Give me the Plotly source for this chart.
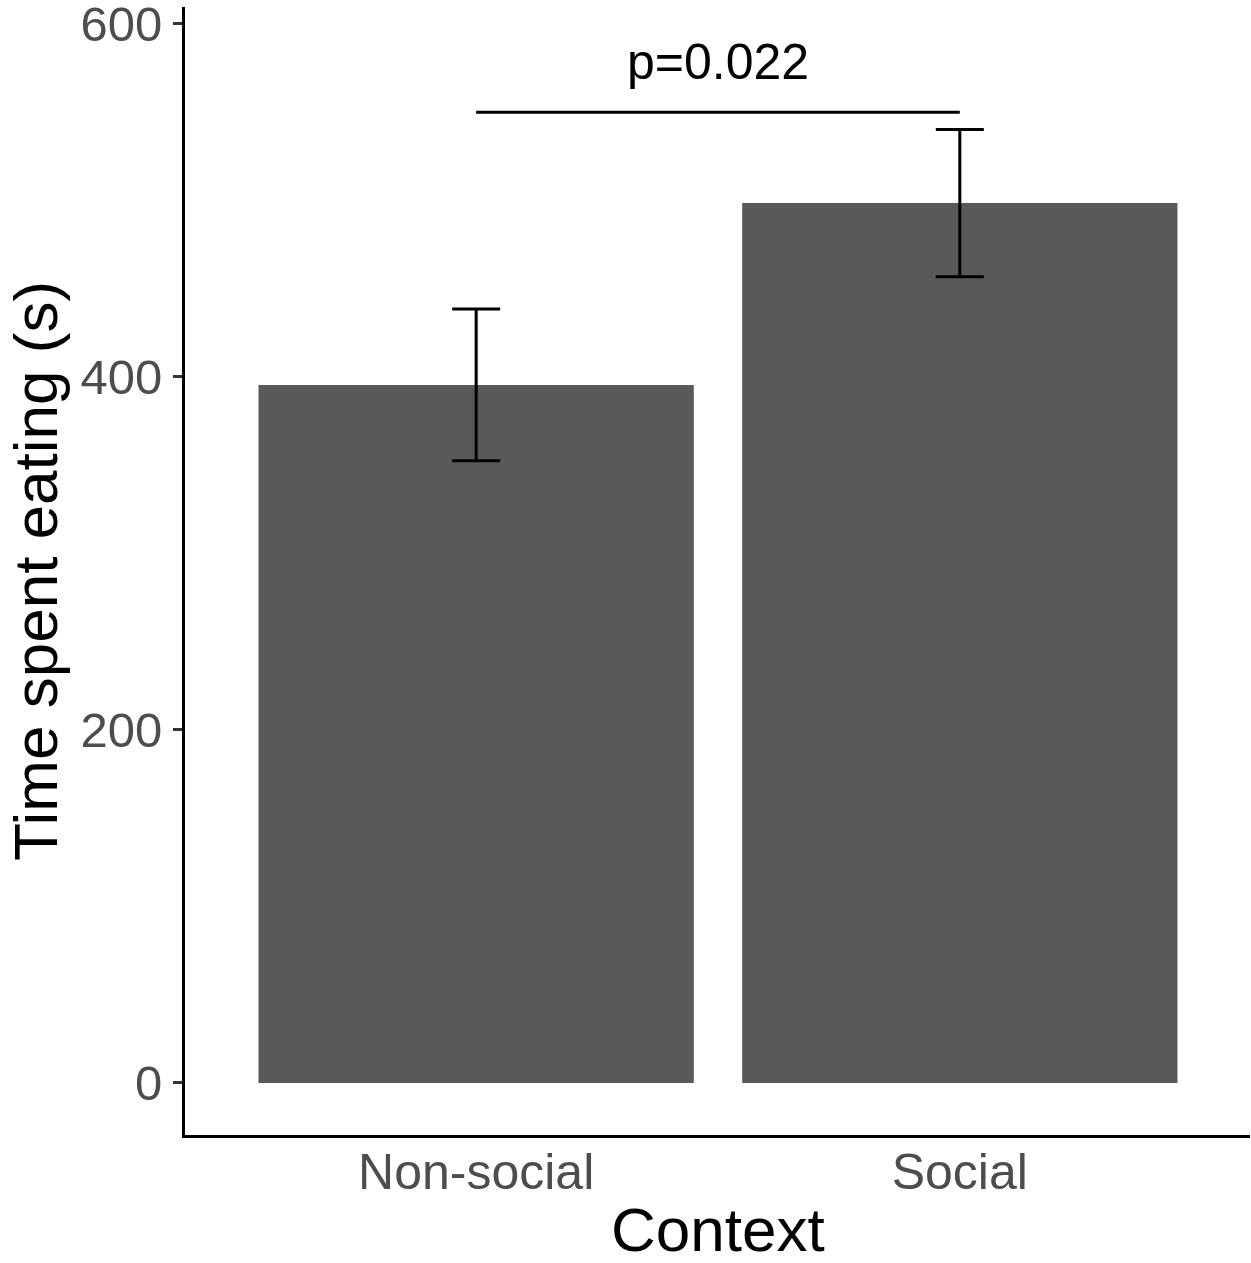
import plotly.graph_objects as go

# Mean time spent eating per context, with error half-widths
contexts = ["Non-social", "Social"]
mean_time = [395.5, 498.5]
err_time = [43.0, 41.7]

# Significance bracket between the two contexts
bracket_y = 550
p_label = "p=0.022"

FONT = "Liberation Sans, Arial, sans-serif"

fig = go.Figure()

fig.add_trace(go.Bar(
    x=contexts,
    y=mean_time,
    width=0.9,
    marker=dict(color="#595959", line=dict(width=0)),
    error_y=dict(type="data", array=err_time, visible=True,
                 color="black", thickness=3, width=24),
    showlegend=False,
    hoverinfo="skip",
))

fig.add_trace(go.Scatter(
    x=contexts,
    y=[bracket_y, bracket_y],
    mode="lines",
    line=dict(color="black", width=3),
    showlegend=False,
    hoverinfo="skip",
))

fig.add_annotation(
    x=0.5, y=bracket_y, xref="x", yref="y",
    text=p_label, showarrow=False,
    yanchor="bottom", yshift=20,
    font=dict(family=FONT, size=50, color="black"),
)

# Axis titles
fig.add_annotation(
    x=0.5, y=0, xref="paper", yref="paper",
    text="Context", showarrow=False,
    xanchor="center", yanchor="middle", yshift=-94,
    font=dict(family=FONT, size=62, color="black"),
)
fig.add_annotation(
    x=0, y=0.5, xref="paper", yref="paper",
    text="Time spent eating (s)", showarrow=False, textangle=-90,
    xanchor="center", yanchor="middle", xshift=-150,
    font=dict(family=FONT, size=62, color="black"),
)

fig.update_layout(
    width=1251, height=1263,
    margin=dict(l=185, r=1, t=7, b=128, pad=0),
    paper_bgcolor="white",
    plot_bgcolor="white",
    font=dict(family=FONT),
    bargap=0.1,
)

fig.update_xaxes(
    type="category",
    range=[-0.602, 1.6],
    automargin=False,
    showline=True, linecolor="black", linewidth=3,
    ticks="", ticklabelstandoff=-9,
    tickfont=dict(family=FONT, size=50, color="#4D4D4D"),
    showgrid=False, zeroline=False,
)

fig.update_yaxes(
    range=[-29.5, 609.6],
    tickvals=[0, 200, 400, 600],
    automargin=False,
    showline=True, linecolor="black", linewidth=3,
    ticks="outside", ticklen=9, tickwidth=3, tickcolor="#333333",
    tickfont=dict(family=FONT, size=49, color="#4D4D4D"),
    ticklabelstandoff=1,
    ticklabeloverflow="allow",
    showgrid=False, zeroline=False,
)

fig.write_html("out.html")
